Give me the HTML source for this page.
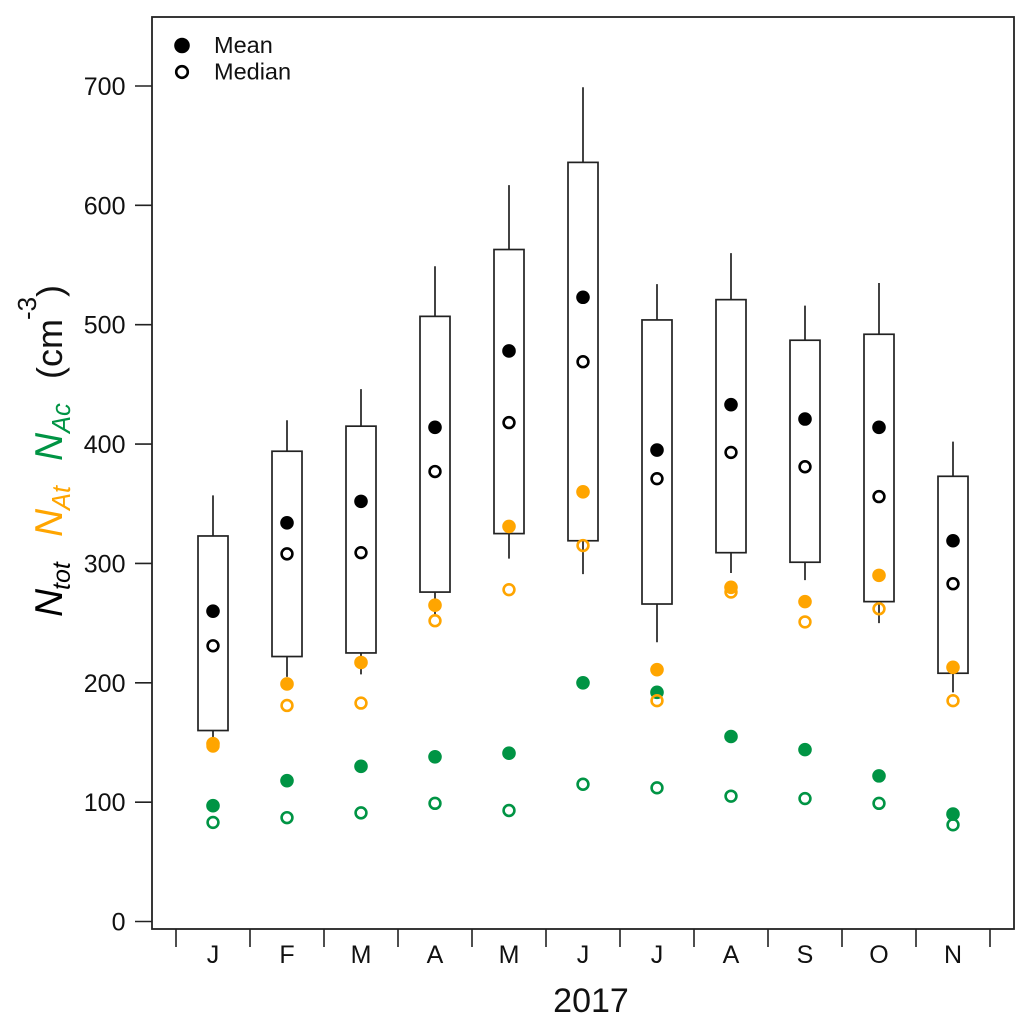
<!DOCTYPE html>
<html lang="en">
<head>
<meta charset="utf-8">
<title>Monthly particle number concentrations, 2017</title>
<style>
html,body{margin:0;padding:0;background:#fff;}
svg{display:block;font-family:"Liberation Sans",sans-serif;}
</style>
</head>
<body>
<svg id="chart" xmlns="http://www.w3.org/2000/svg" width="1033" height="1031" viewBox="0 0 1033 1031">
  <rect x="0" y="0" width="1033" height="1031" fill="#fff"/>
  <g id="marks"></g>
  <g id="axes"></g>
  <rect x="152" y="17" width="862" height="912" fill="none" stroke="#222" stroke-width="1.8"/>

  <g>
    <circle cx="182" cy="45.5" r="7.8" fill="#000"/>
    <text x="214" y="53" font-size="23.5" fill="#111">Mean</text>
    <circle cx="182" cy="72" r="5.8" fill="#fff" stroke="#000" stroke-width="2.6"/>
    <text x="214" y="79.5" font-size="23.5" fill="#111">Median</text>
  </g>

  <text x="591" y="1012" font-size="34" text-anchor="middle" fill="#111">2017</text>

  <g>
    <text transform="translate(62,617) rotate(-90)" font-size="39" font-style="italic" fill="#000">N</text>
    <text transform="translate(70,590) rotate(-90)" font-size="25" font-style="italic" fill="#000">tot</text>
    <text transform="translate(62,537) rotate(-90)" font-size="39" font-style="italic" fill="#ffa500">N</text>
    <text transform="translate(70,510) rotate(-90)" font-size="25.5" font-style="italic" fill="#ffa500">At</text>
    <text transform="translate(62,461) rotate(-90)" font-size="39" font-style="italic" fill="#009444">N</text>
    <text transform="translate(70,433) rotate(-90)" font-size="25.5" font-style="italic" fill="#009444">Ac</text>
    <text transform="translate(62,379) rotate(-90)" font-size="36" fill="#111">(cm</text>
    <text transform="translate(36,320) rotate(-90)" font-size="26" fill="#111">-3</text>
    <text transform="translate(62,297) rotate(-90)" font-size="36" fill="#111">)</text>
  </g>
</svg>
<script>
const months = ["J","F","M","A","M","J","J","A","S","O","N"];
const yTicks = [0,100,200,300,400,500,600,700];
const whiskerHigh = [357,420,446,549,617,699,534,560,516,535,402];
const boxHigh = [323,394,415,507,563,636,504,521,487,492,373];
const boxLow = [160,222,225,276,325,319,266,309,301,268,208];
const whiskerLow = [150,205,207,256,304,291,234,292,286,250,192];
const totMean = [260,334,352,414,478,523,395,433,421,414,319];
const totMedian = [231,308,309,377,418,469,371,393,381,356,283];
const atMean = [149,199,217,265,331,360,211,280,268,290,213];
const atMedian = [147,181,183,252,278,315,185,276,251,262,185];
const acMean = [97,118,130,138,141,200,192,155,144,122,90];
const acMedian = [83,87,91,99,93,115,112,105,103,99,81];

const NS = "http://www.w3.org/2000/svg";
const marks = document.getElementById("marks");
const axes = document.getElementById("axes");
const y = v => 921.5 - v * (835.5 / 700);
const xEdge = i => 176 + i * 74;
const xMid = i => xEdge(i) + 37;

function make(parent, tag, attrs) {
  const el = document.createElementNS(NS, tag);
  for (const k in attrs) el.setAttribute(k, attrs[k]);
  parent.appendChild(el);
  return el;
}
const INK = "#222";

yTicks.forEach(t => {
  const tick = make(axes, "line", {x1: 135, x2: 152, y1: y(t), y2: y(t), stroke: INK, "stroke-width": 1.6});
  
  
  const label = make(axes, "text", {x: 125.5, y: y(t) + 9, "font-size": 25, "text-anchor": "end", fill: "#111"});
  label.textContent = t;
  
  
});

for (let i = 0; i <= months.length; i++) {
  const tick = make(axes, "line", {x1: xEdge(i), x2: xEdge(i), y1: 929, y2: 947, stroke: INK, "stroke-width": 1.6});
  
  
}

months.forEach((m, i) => {
  const label = make(axes, "text", {x: xMid(i), y: 963, "font-size": 25, "text-anchor": "middle", fill: "#111"});
  label.textContent = m;
  
  

  const whisker = make(marks, "line", {x1: xMid(i), x2: xMid(i), y1: y(whiskerHigh[i]), y2: y(whiskerLow[i]), stroke: INK, "stroke-width": 1.7});
  
  

  const box = make(marks, "rect", {x: xMid(i) - 15, y: y(boxHigh[i]), width: 30, height: y(boxLow[i]) - y(boxHigh[i]), fill: "#fff", stroke: INK, "stroke-width": 1.7});
  
  
});

function filled(values, color, name) {
  values.forEach((v, i) => {
    const c = make(marks, "circle", {cx: xMid(i), cy: y(v), r: 6.8, fill: color});
    
    
  });
}
function open(values, color, name) {
  values.forEach((v, i) => {
    const c = make(marks, "circle", {cx: xMid(i), cy: y(v), r: 5.4, fill: "none", stroke: color, "stroke-width": 2.6});
    
    
  });
}
filled(acMean, "#009444", "nac-mean-point");
open(acMedian, "#009444", "nac-median-point");
open(atMedian, "#ffa500", "nat-median-point");
filled(atMean, "#ffa500", "nat-mean-point");
filled(totMean, "#000", "ntot-mean-point");
open(totMedian, "#000", "ntot-median-point");
</script>
</body>
</html>
